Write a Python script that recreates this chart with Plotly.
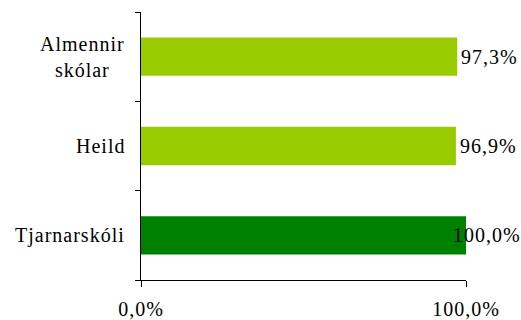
import plotly.graph_objects as go

categories = ["Tjarnarskóli", "Heild", "Almennir<br>skólar"]
values = [1.0, 0.969, 0.973]
value_labels = ["100,0%", "96,9%", "97,3%"]
x_tickvals = [0, 1]
x_ticktext = ["0,0%", "100,0%"]

bar_colors = ["#008000", "#99CC00", "#99CC00"]
label_shift = [-15, 2, 2]
FONT = dict(family="Liberation Serif, Times New Roman, serif", size=20, color="black")


def spaced(s):
    # Excel-style loose letter spacing
    return "<br>".join(f"<span style='letter-spacing:1px'>{p}</span>" for p in s.split("<br>"))


fig = go.Figure()
fig.add_trace(go.Bar(
    y=categories, x=values, orientation="h",
    marker=dict(color=bar_colors, line=dict(width=0)),
    hoverinfo="skip",
))

for cat, val, lab, dx in zip(categories, values, value_labels, label_shift):
    fig.add_annotation(x=val, y=cat, text=spaced(lab), showarrow=False,
                       xanchor="left", yanchor="middle", xshift=dx, font=FONT)

# category labels as annotations so the two-line label stays centred
for cat in categories:
    fig.add_annotation(x=0, xref="paper", y=cat, text=spaced(cat), showarrow=False,
                       xanchor="right", yanchor="middle", align="center",
                       xshift=-14, font=FONT)

fig.update_layout(
    width=521, height=320,
    margin=dict(l=141, r=55, t=12, b=40),
    paper_bgcolor="white", plot_bgcolor="white",
    showlegend=False, bargap=0.57,
    font=FONT,
)
fig.update_xaxes(
    range=[0, 1], tickvals=x_tickvals, ticktext=[spaced(t) for t in x_ticktext],
    showgrid=False, zeroline=False, automargin=False,
    showline=True, linecolor="black", linewidth=1,
    ticks="outside", ticklen=6, tickcolor="black", tickwidth=1,
    ticklabelstandoff=5,
)
fig.update_yaxes(
    categoryorder="array", categoryarray=categories,
    showticklabels=False, showgrid=False, zeroline=False, automargin=False,
    showline=True, linecolor="black", linewidth=1,
    ticks="outside", ticklen=5, tickcolor="black", tickwidth=1,
    tickson="boundaries",
)

fig.write_html("out.html", config={"displayModeBar": False},
               post_script="document.body.style.margin='0';")
